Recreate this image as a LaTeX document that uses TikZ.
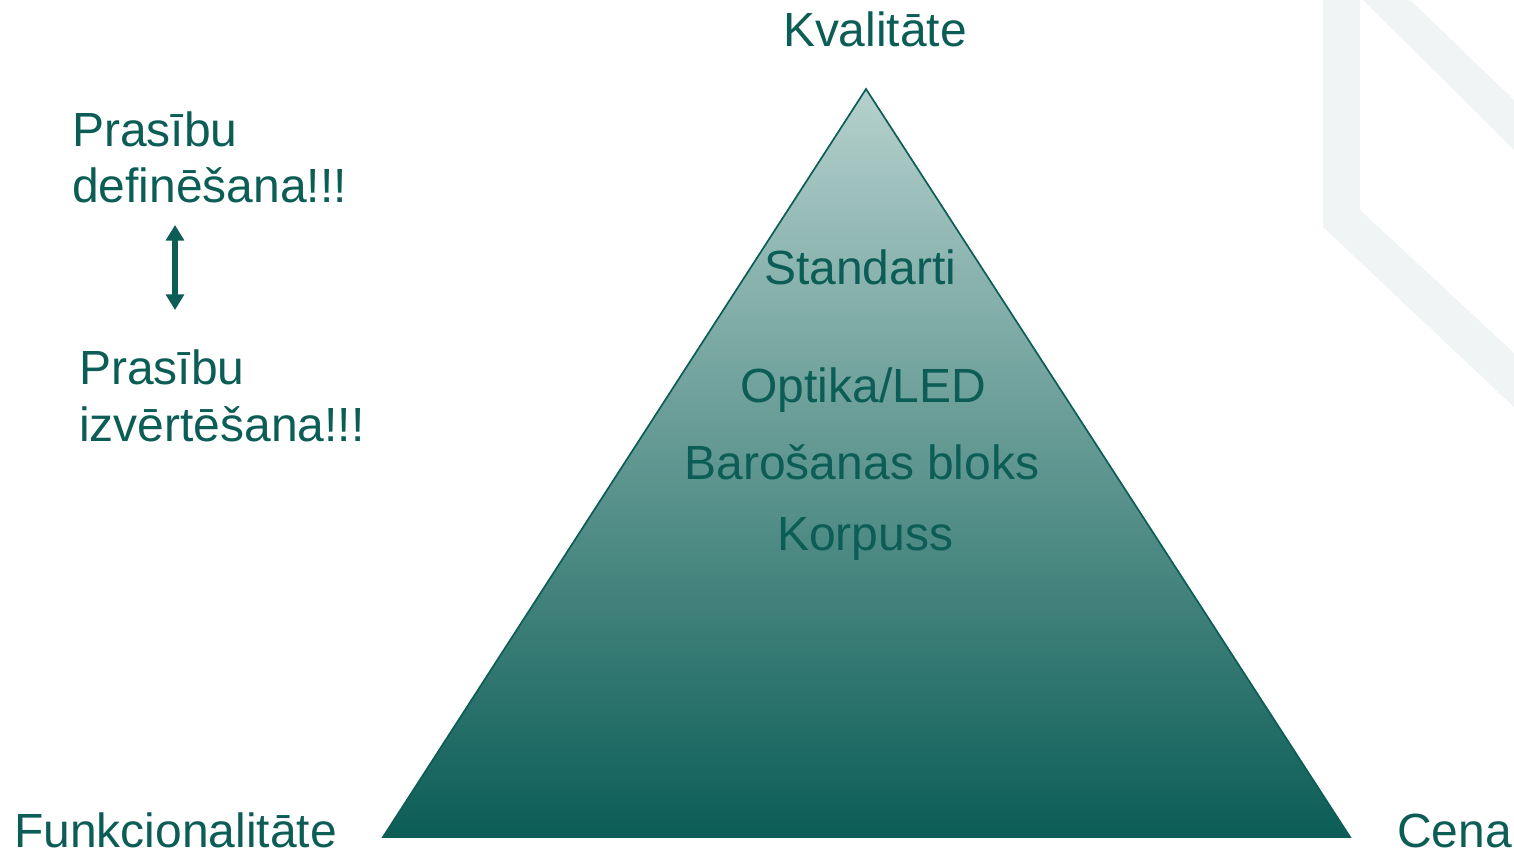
\documentclass[tikz,border=0pt]{standalone}
\usepackage{fontspec}
\setmainfont{Liberation Sans}
\usepackage{xcolor}
\usepackage{tikz}
\usetikzlibrary{arrows.meta,positioning,calc}

\definecolor{deepteal}{HTML}{0B5D56}
\definecolor{paleteal}{HTML}{B5D0CC}
\definecolor{midteal}{HTML}{8AACA8}
\definecolor{markgray}{HTML}{F0F4F5}

\tikzstyle{lbl}   =[text=deepteal, inner sep=0pt, font=\fontsize{34pt}{39.7pt}\selectfont]
\tikzstyle{arr}   =[{Triangle[width=12.5pt, length=11pt]}-{Triangle[width=12.5pt, length=11pt]}, line width=4.2pt, draw=deepteal]

\begin{document}
\begin{tikzpicture}[x=1pt, y=-1pt, scale=0.7087]

  \useasboundingbox (0,0) rectangle (1514,859);

  % ── logo band in the corner ───────────────────────────────────────────────
  \fill[markgray] (1323,0) -- (1360,0) -- (1360,210) -- (1514,353) -- (1514,407)
                  -- (1323,227) -- cycle;
  \fill[markgray] (1363,0) -- (1410,0) -- (1514,100) -- (1514,150) -- cycle;

  % ── pyramid ───────────────────────────────────────────────────────────────
  \coordinate (top)   at (866,89);
  \coordinate (left)  at (383,837);
  \coordinate (right) at (1350,837);
  \fill[top color=paleteal, middle color=midteal, bottom color=deepteal]
       (top) -- (left) -- (right) -- cycle;
  \draw[deepteal, line width=1.2pt, line join=miter] (top) -- (left) -- (right) -- cycle;

  % ── corner labels ─────────────────────────────────────────────────────────
  \node[lbl, anchor=base]      (kval) at (875,47)  {Kvalitāte};
  \node[lbl, anchor=base west] (funk) at (14,847)  {Funkcionalitāte};
  \node[lbl, anchor=base west] (cena) at (1397,847) {Cena};

  % ── layers inside ─────────────────────────────────────────────────────────
  \node[lbl, anchor=base] (std)  at (860,285) {Standarti};
  \node[lbl, anchor=base] (opt)  at (863,402) {Optika/LED};
  \node[lbl, anchor=base] (bar)  at (862,479) {Barošanas bloks};
  \node[lbl, anchor=base] (korp) at (865,550) {Korpuss};

  % ── requirements, left side ───────────────────────────────────────────────
  \node[lbl, anchor=base west, align=left] (def) at (72,203)
       {Prasību\\definēšana!!!};
  \node[lbl, anchor=base west, align=left] (izv) at (79,441)
       {Prasību\\izvērtēšana!!!};

  \coordinate (up) at (175,225);
  \coordinate (dn) at (175,310);
  \draw[arr] (up) -- (dn);

\end{tikzpicture}
\end{document}
